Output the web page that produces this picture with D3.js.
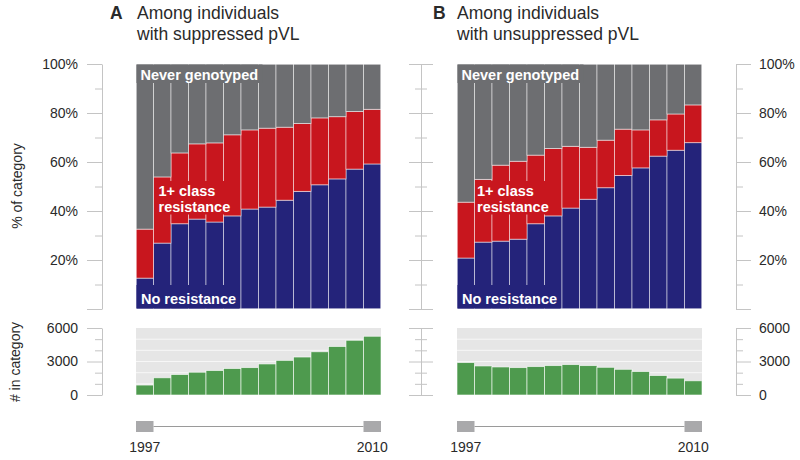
<!DOCTYPE html>
<html>
<head>
<meta charset="utf-8">
<script src="https://cdn.jsdelivr.net/npm/d3@7"></script>
<style>
  html, body { margin: 0; padding: 0; background: #fff; }
  svg { display: block; font-family: "Liberation Sans", Arial, Helvetica, sans-serif; }
</style>
</head>
<body>
<svg id="chart" width="800" height="460"></svg>
<script>
// ---------- DATA ----------
const years = [1997, 1998, 1999, 2000, 2001, 2002, 2003, 2004, 2005, 2006, 2007, 2008, 2009, 2010];

// Panel A: suppressed pVL (% of category)
const noResistanceA = [12.6, 26.9, 34.8, 36.7, 35.5, 38.0, 40.8, 41.6, 44.4, 48.0, 50.7, 53.1, 57.1, 59.2];
const resistanceA   = [20.0, 27.0, 28.9, 30.7, 32.3, 33.1, 32.3, 32.2, 29.8, 27.7, 27.3, 25.4, 23.5, 22.3];
const countA        = [890, 1540, 1830, 2040, 2190, 2370, 2450, 2780, 3100, 3400, 3870, 4340, 4900, 5260];

// Panel B: unsuppressed pVL (% of category)
const noResistanceB = [20.8, 27.3, 27.7, 28.5, 34.8, 38.0, 41.2, 44.8, 49.5, 54.5, 57.6, 62.4, 64.8, 67.9];
const resistanceB   = [22.8, 25.6, 31.0, 31.8, 28.0, 27.5, 25.2, 21.2, 19.4, 18.9, 15.5, 14.8, 14.8, 15.4];
const countB        = [2900, 2600, 2510, 2450, 2540, 2630, 2720, 2630, 2480, 2300, 2100, 1740, 1510, 1270];

const pctMajorTicks = [0, 20, 40, 60, 80, 100];
const pctMinorTicks = [10, 30, 50, 70, 90];
const cntMajorTicks = [0, 3000, 6000];
const cntMinorTicks = [1000, 2000, 4000, 5000];
const cntGrid = [1000, 2000, 3000, 4000, 5000];

const segLabels = { never: "Never genotyped", res: ["1+ class", "resistance"], none: "No resistance" };
const titlesA = ["A", "Among individuals", "with suppressed pVL"];
const titlesB = ["B", "Among individuals", "with unsuppressed pVL"];
const yAxisTitleTop = "% of category";
const yAxisTitleBottom = "# in category";

// ---------- STYLE ----------
const C = {
  never: "#6d6e71", res: "#c8161e", none: "#24237a", green: "#4e9a4e",
  bg: "#e6e6e6", axis: "#c4c4c4", text: "#2a2a2a", tl: "#a9a9ab", tlLine: "#9a9a9a"
};

const svg = d3.select("#chart");

const topY = d3.scaleLinear().domain([0, 100]).range([309, 64]);
const botY = d3.scaleLinear().domain([0, 6000]).range([395, 328]);

function makeRows(blue, red) {
  return years.map((yr, i) => ({ year: yr, none: blue[i], res: red[i], never: 100 - blue[i] - red[i] }));
}
const stack = d3.stack().keys(["none", "res", "never"]);

function panel(x0, blue, red, counts, titles, labelPos) {
  const x = d3.scaleBand().domain(years).range([x0, x0 + 245]).padding(0);
  const g = svg.append("g");
  const series = stack(makeRows(blue, red));

  // stacked bars
  series.forEach(s => {
    g.append("g").selectAll("rect").data(s).join("rect")
      .attr("x", d => x(d.data.year))
      .attr("width", x.bandwidth())
      .attr("y", d => topY(d[1]))
      .attr("height", d => topY(d[0]) - topY(d[1]))
      .attr("fill", C[s.key])
      .attr("stroke", "rgba(255,255,255,0.55)")
      .attr("stroke-width", 0.9);
  });
  // outer clean edge
  g.append("rect").attr("x", x0).attr("y", topY(100)).attr("width", 245)
    .attr("height", topY(0) - topY(100)).attr("fill", "none").attr("stroke", "#fff").attr("stroke-width", 0.8);

  // label background boxes (hide separators behind text)
  g.append("rect").attr("x", x0 + 0.5).attr("y", topY(100) + 0.5).attr("width", labelPos.neverW).attr("height", 18.5).attr("fill", C.never);
  g.append("rect").attr("x", x0 + 0.5).attr("y", 285).attr("width", labelPos.noneW).attr("height", 23.5).attr("fill", C.none);
  g.append("rect").attr("x", labelPos.resX - 2).attr("y", 181).attr("width", labelPos.resW).attr("height", 33.5).attr("fill", C.res);

  g.append("text").attr("x", x0 + 4.5).attr("y", 79.5).attr("fill", "#fff")
    .attr("font-size", 14.5).attr("font-weight", "bold").text(segLabels.never);
  g.append("text").attr("x", x0 + 5).attr("y", 303.5).attr("fill", "#fff")
    .attr("font-size", 14.5).attr("font-weight", "bold").text(segLabels.none);
  g.append("text").attr("x", labelPos.resX).attr("y", 196).attr("fill", "#fff")
    .attr("font-size", 14.5).attr("font-weight", "bold").text(segLabels.res[0]);
  g.append("text").attr("x", labelPos.resX).attr("y", 212).attr("fill", "#fff")
    .attr("font-size", 14.5).attr("font-weight", "bold").text(segLabels.res[1]);

  // bottom count bars
  g.append("rect").attr("x", x0).attr("y", botY(6000)).attr("width", 245)
    .attr("height", botY(0) - botY(6000)).attr("fill", C.bg);
  g.append("g").selectAll("line").data(cntGrid).join("line")
    .attr("x1", x0).attr("x2", x0 + 245)
    .attr("y1", d => botY(d)).attr("y2", d => botY(d))
    .attr("stroke", "#f7f7f7").attr("stroke-width", 1);
  g.append("g").selectAll("rect").data(years).join("rect")
    .attr("x", (d) => x(d))
    .attr("width", x.bandwidth())
    .attr("y", (d, i) => botY(counts[i]))
    .attr("height", (d, i) => botY(0) - botY(counts[i]))
    .attr("fill", C.green)
    .attr("stroke", "rgba(255,255,255,0.75)")
    .attr("stroke-width", 0.8);

  // timeline
  const first = years[0], last = years[years.length - 1];
  g.append("line").attr("x1", x(first) + x.bandwidth()).attr("x2", x(last))
    .attr("y1", 426.5).attr("y2", 426.5).attr("stroke", C.tlLine).attr("stroke-width", 1);
  g.selectAll(".tl").data([first, last]).join("rect").attr("class", "tl")
    .attr("x", d => x(d)).attr("width", x.bandwidth())
    .attr("y", 421).attr("height", 11).attr("fill", C.tl);
  g.selectAll(".yl").data([first, last]).join("text").attr("class", "yl")
    .attr("x", d => x(d) + x.bandwidth() / 2).attr("y", 452)
    .attr("text-anchor", "middle").attr("font-size", 14).attr("fill", C.text)
    .text(d => d);

  // titles
  g.append("text").attr("x", labelPos.titleLetterX).attr("y", 18.5).attr("font-size", 17.5)
    .attr("font-weight", "bold").attr("fill", C.text).text(titles[0]);
  g.append("text").attr("x", labelPos.titleX).attr("y", 18.5).attr("font-size", 17.5)
    .attr("fill", C.text).text(titles[1]);
  g.append("text").attr("x", labelPos.titleX).attr("y", 39.5).attr("font-size", 17.5)
    .attr("fill", C.text).text(titles[2]);
}

panel(136, noResistanceA, resistanceA, countA, titlesA,
  { neverW: 126, noneW: 103, resX: 158.5, resW: 76, titleLetterX: 110, titleX: 137 });
panel(457, noResistanceB, resistanceB, countB, titlesB,
  { neverW: 126, noneW: 103, resX: 477, resW: 76, titleLetterX: 433, titleX: 457 });

// ---------- AXES ----------
function styleAxis(sel) {
  sel.selectAll("path.domain").attr("stroke", C.axis).attr("stroke-width", 1);
  sel.selectAll(".tick line").attr("stroke", C.axis).attr("stroke-width", 1);
  sel.selectAll(".tick text").attr("fill", C.text).attr("font-size", 14)
    .attr("font-family", '"Liberation Sans", Arial, sans-serif');
}

function sideAxis(scale, majors, minors, fmt, xPos, orient, majorLen, minorLen, showLabels, pad) {
  const mk = orient === "left" ? d3.axisLeft : d3.axisRight;
  const maj = svg.append("g").attr("transform", `translate(${xPos},0)`)
    .call(mk(scale).tickValues(majors).tickSize(majorLen).tickSizeOuter(0)
      .tickPadding(pad).tickFormat(showLabels ? fmt : () => ""));
  styleAxis(maj);
  const mn = svg.append("g").attr("transform", `translate(${xPos},0)`)
    .call(mk(scale).tickValues(minors).tickSize(minorLen).tickSizeOuter(0).tickFormat(() => ""));
  styleAxis(mn);
  mn.select("path.domain").remove();
  return maj;
}

const pctFmt = d => d === 0 ? "" : d + "%";
const cntFmt = d => String(d);

// left
sideAxis(topY, pctMajorTicks, pctMinorTicks, pctFmt, 102, "left", 15, 7, true, 9);
sideAxis(botY, cntMajorTicks, cntMinorTicks, cntFmt, 102, "left", 15, 7, true, 9);
// right
sideAxis(topY, pctMajorTicks, pctMinorTicks, pctFmt, 736, "right", 15, 7, true, 8);
sideAxis(botY, cntMajorTicks, cntMinorTicks, cntFmt, 736, "right", 15, 7, true, 8);
// middle (ticks on both sides, no labels)
[["left", 12, 6], ["right", 12, 6]].forEach(([o, a, b]) => {
  sideAxis(topY, pctMajorTicks, pctMinorTicks, pctFmt, 421, o, a, b, false, 0);
  sideAxis(botY, cntMajorTicks, cntMinorTicks, cntFmt, 421, o, a, b, false, 0);
});

// axis titles
svg.append("text").attr("transform", "translate(22,186) rotate(-90)")
  .attr("text-anchor", "middle").attr("font-size", 14).attr("fill", C.text).text(yAxisTitleTop);
svg.append("text").attr("transform", "translate(20,362) rotate(-90)")
  .attr("text-anchor", "middle").attr("font-size", 14).attr("fill", C.text).text(yAxisTitleBottom);
</script>
</body>
</html>
